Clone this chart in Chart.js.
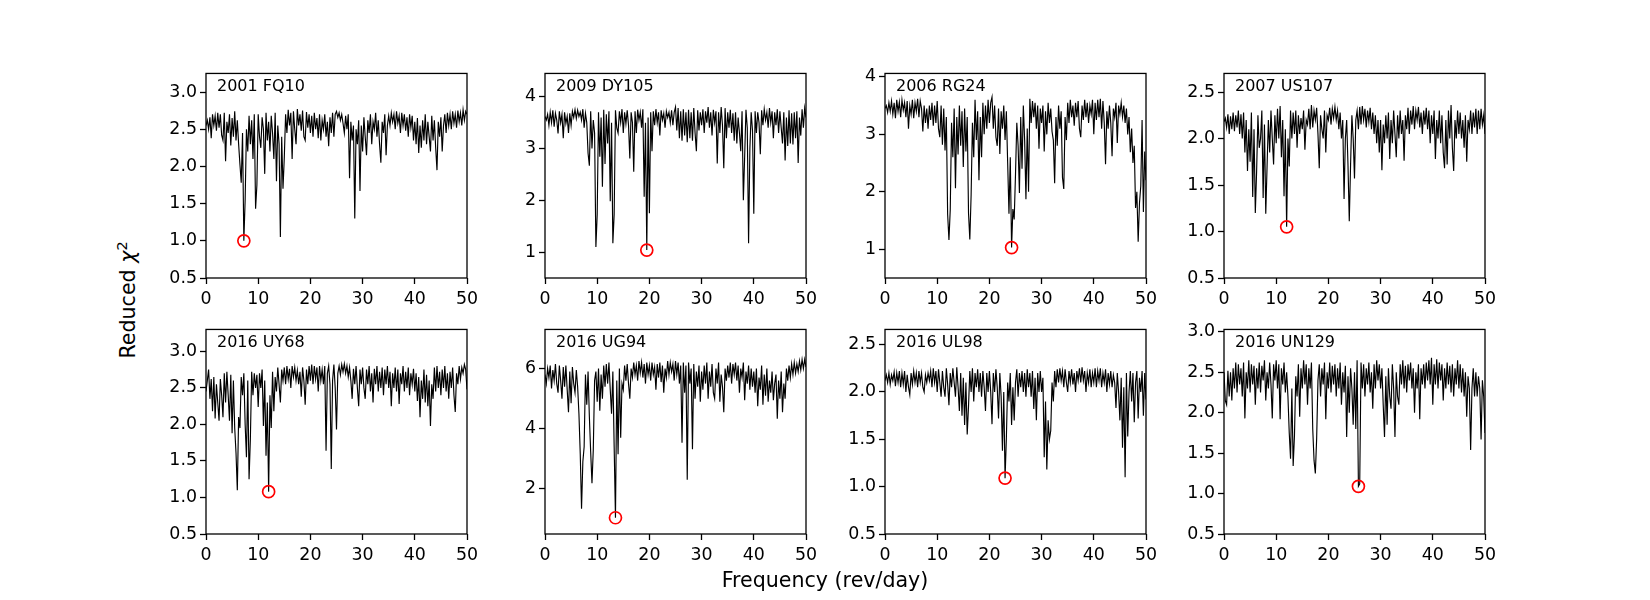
<!DOCTYPE html>
<html>
<head>
<meta charset="utf-8">
<script src="https://cdn.jsdelivr.net/npm/chart.js@4/dist/chart.umd.min.js"></script>
<style>
  body { margin: 0; background: #fff; width: 1650px; height: 600px; position: relative; overflow: hidden;
         font-family: "DejaVu Sans", sans-serif; color: #000; }
  canvas { position: absolute; }
  .name { position: absolute; font-size: 16px; line-height: 1; white-space: nowrap; }
  .axlabel { position: absolute; font-size: 20.6px; line-height: 1; white-space: nowrap; }
</style>
</head>
<body>
<script>
// frequency grid step (rev/day), grid runs 0..50
const freqStep = 0.25;

const objectNames = ['2001 FQ10', '2009 DY105', '2006 RG24', '2007 US107',
                     '2016 UY68', '2016 UG94', '2016 UL98', '2016 UN129'];

// reduced chi^2, one value every 0.25 rev/day
const chiFQ10 = [
  2.55, 2.62, 2.5, 2.66, 2.38, 2.7, 2.55, 2.68, 2.48, 2.72, 2.52, 2.7, 2.42, 2.35, 2.72, 2.07, 2.6, 2.45, 2.7, 2.28,
  2.65, 2.4, 2.74, 2.35, 2.62, 2.3, 2.03, 1.78, 2.45, 1.0, 1.55, 2.5, 2.2, 2.68, 2.3, 2.62, 2.1, 2.7, 1.43, 1.75,
  2.7, 2.4, 2.25, 2.66, 2.5, 1.9, 2.72, 2.35, 2.6, 2.2, 2.68, 2.45, 2.1, 2.72, 1.8, 2.55, 2.3, 1.05, 2.4, 1.7,
  2.12, 2.7, 2.45, 2.76, 2.55, 2.72, 2.1, 2.74, 2.5, 2.3, 2.77, 2.55, 2.7, 2.48, 2.75, 2.4, 2.35, 2.73, 2.52, 2.7,
  2.45, 2.68, 2.4, 2.72, 2.5, 2.65, 2.38, 2.7, 2.35, 2.62, 2.5, 2.7, 2.4, 2.6, 2.27, 2.66, 2.45, 2.72, 2.4, 2.7,
  2.74, 2.66, 2.72, 2.62, 2.7, 2.58, 2.45, 2.68, 2.5, 2.7, 1.84, 2.6, 2.35, 2.55, 1.3, 2.5, 2.3, 2.62, 1.67, 2.55,
  2.2, 2.66, 2.4, 2.15, 2.62, 2.45, 2.7, 2.3, 2.6, 2.5, 2.72, 2.4, 2.62, 2.3, 2.05, 2.6, 2.45, 2.7, 2.15, 2.55,
  2.68, 2.55, 2.72, 2.6, 2.7, 2.5, 2.74, 2.58, 2.68, 2.45, 2.72, 2.55, 2.7, 2.48, 2.66, 2.4, 2.7, 2.52, 2.68, 2.35,
  2.6, 2.3, 2.65, 2.18, 2.55, 2.25, 2.62, 2.35, 2.7, 2.3, 2.6, 2.4, 2.2, 2.68, 2.35, 2.62, 2.25, 1.95, 2.6, 2.4,
  2.66, 2.2, 2.55, 2.7, 2.45, 2.72, 2.55, 2.7, 2.5, 2.74, 2.58, 2.7, 2.52, 2.75, 2.6, 2.72, 2.55, 2.76, 2.62, 2.74, 2.7
];
const chiDY105 = [
  3.62, 3.55, 3.66, 3.45, 3.7, 3.5, 3.74, 3.42, 3.68, 3.55, 3.29, 3.72, 3.5, 3.66, 3.2, 3.7, 3.48, 3.62, 3.3, 3.68,
  3.45, 3.72, 3.6, 3.75, 3.58, 3.74, 3.62, 3.7, 3.55, 3.76, 3.4, 3.68, 3.5, 2.91, 2.67, 3.72, 3.0, 3.55, 3.3, 1.1,
  1.73, 3.7, 2.84, 3.6, 2.26, 3.75, 2.7, 3.66, 3.1, 3.72, 1.98, 3.5, 1.17, 1.73, 3.74, 3.4, 3.3, 3.72, 3.5, 3.76,
  3.3, 3.7, 3.48, 3.74, 3.45, 2.81, 3.7, 3.5, 2.55, 3.72, 3.3, 3.75, 3.55, 3.7, 3.4, 3.76, 2.07, 3.5, 1.04, 3.6,
  1.75, 3.7, 2.95, 3.72, 3.45, 3.76, 3.5, 3.7, 3.25, 3.74, 3.55, 3.68, 3.4, 3.72, 3.6, 3.7, 3.5, 3.74, 3.45, 3.7,
  3.8, 3.35, 3.78, 3.2, 3.72, 3.15, 3.76, 3.25, 3.7, 3.12, 3.75, 3.2, 3.7, 3.15, 3.78, 3.3, 2.95, 3.74, 3.35, 3.7,
  3.45, 3.76, 3.3, 3.72, 3.5, 3.8, 3.4, 3.7, 3.25, 3.75, 3.5, 3.72, 2.71, 3.7, 3.3, 3.8, 3.45, 2.62, 3.78, 3.2,
  3.7, 3.4, 3.75, 3.3, 3.68, 3.15, 3.7, 3.1, 3.6, 3.3, 2.95, 3.72, 2.0, 2.85, 3.75, 3.4, 1.17, 3.0, 3.7, 3.35,
  1.74, 3.72, 3.3, 3.7, 3.5, 2.89, 3.74, 3.45, 3.76, 3.55, 3.7, 3.4, 3.78, 3.5, 3.72, 3.2, 3.7, 3.45, 3.76, 3.3,
  3.72, 3.4, 3.1, 3.7, 2.77, 3.6, 3.05, 3.74, 3.1, 3.68, 3.08, 3.7, 3.2, 3.72, 2.72, 3.6, 3.25, 3.76, 3.4, 3.78, 3.6
];
const chiRG24 = [
  3.45, 3.5, 3.38, 3.55, 3.4, 3.58, 3.35, 3.55, 3.28, 3.6, 3.4, 3.56, 3.3, 3.6, 3.42, 3.55, 3.3, 3.58, 3.1, 3.5,
  3.35, 3.6, 3.28, 3.55, 3.4, 3.62, 3.3, 3.58, 3.45, 3.05, 3.5, 3.2, 3.45, 3.1, 3.5, 3.25, 3.55, 3.15, 3.5, 3.2,
  3.58, 3.1, 2.95, 3.5, 2.82, 3.45, 2.72, 3.3, 1.61, 1.16, 1.69, 3.2, 2.6, 3.45, 2.06, 3.3, 2.65, 3.5, 2.8, 3.4,
  2.43, 3.45, 2.7, 3.3, 1.63, 1.17, 1.95, 3.2, 2.6, 3.6, 2.9, 3.4, 2.2, 3.3, 2.6, 3.55, 3.0, 3.5, 3.1, 3.6,
  3.2, 3.55, 3.65, 3.1, 3.5, 2.95, 2.8, 3.45, 2.66, 3.4, 3.1, 3.5, 2.9, 3.4, 2.5, 1.62, 2.6, 1.03, 1.7, 1.52,
  2.3, 3.2, 2.8, 1.98, 3.3, 2.4, 3.5, 2.9, 1.87, 3.1, 2.0, 3.62, 3.2, 3.58, 3.3, 3.55, 3.1, 3.5, 2.75, 3.45,
  3.2, 3.5, 2.7, 3.4, 3.0, 3.55, 3.2, 3.45, 3.05, 2.9, 2.15, 3.3, 2.8, 3.5, 3.1, 3.4, 2.25, 2.05, 3.3, 2.9,
  3.55, 3.2, 3.6, 3.3, 3.5, 3.15, 3.55, 3.3, 3.58, 3.1, 2.95, 3.5, 3.25, 3.6, 3.3, 3.55, 3.2, 3.5, 3.35, 3.6,
  3.0, 3.55, 3.25, 3.6, 3.3, 3.62, 3.1, 3.58, 3.2, 2.48, 3.4, 3.1, 3.5, 3.2, 2.62, 3.45, 3.3, 3.55, 2.85, 3.5,
  3.35, 3.55, 3.3, 3.5, 3.2, 3.45, 3.0, 3.3, 2.69, 3.1, 2.5, 2.8, 1.72, 2.0, 1.13, 1.8, 2.1, 3.25, 1.65, 2.7, 2.2
];
const chiUS107 = [
  2.18, 2.22, 2.12, 2.26, 2.05, 2.24, 2.1, 2.28, 2.08, 2.25, 2.12, 2.3, 2.05, 2.26, 2.0, 2.28, 1.85, 2.2, 1.65, 2.1,
  1.75, 2.28, 1.37, 2.1, 1.2, 1.65, 2.25, 1.9, 2.0, 2.3, 1.36, 2.15, 1.19, 1.7, 2.2, 1.85, 2.3, 2.0, 1.72, 2.25,
  1.95, 2.32, 2.0, 2.35, 1.8, 2.2, 1.38, 2.1, 1.05, 2.0, 1.7, 2.3, 2.0, 2.28, 2.05, 2.3, 1.9, 2.25, 2.05, 2.22,
  2.1, 2.3, 1.88, 2.2, 2.15, 2.32, 2.1, 2.36, 2.12, 2.3, 2.2, 2.33, 2.05, 1.68, 2.25, 2.1, 2.0, 2.3, 1.85, 2.25,
  2.2, 2.33, 2.15, 2.32, 2.22, 2.34, 2.2, 2.3, 2.1, 2.28, 2.0, 2.2, 1.35, 2.0, 2.2, 1.72, 1.11, 1.72, 2.25, 2.0,
  1.57, 2.2, 2.3, 2.1, 2.34, 2.15, 2.35, 2.2, 2.32, 2.12, 2.3, 2.18, 2.33, 2.1, 2.28, 2.05, 2.25, 1.95, 2.2, 1.85,
  2.2, 1.66, 2.15, 1.95, 2.25, 2.0, 2.28, 1.78, 2.2, 1.95, 2.3, 2.05, 1.8, 2.25, 2.0, 2.3, 2.05, 2.2, 1.76, 2.25,
  2.1, 2.33, 2.05, 2.3, 2.15, 2.35, 2.1, 2.3, 2.2, 2.34, 2.12, 2.28, 2.05, 2.3, 2.15, 2.33, 2.1, 2.3, 1.95, 2.25,
  2.05, 2.3, 1.78, 2.2, 2.0, 2.3, 1.95, 2.25, 1.85, 1.68, 2.2, 1.72, 2.3, 2.0, 2.36, 1.9, 1.65, 2.2, 2.0, 2.3,
  2.05, 2.28, 2.0, 2.2, 1.9, 2.25, 1.75, 2.2, 2.1, 2.3, 2.05, 2.28, 2.12, 2.32, 2.05, 2.3, 2.1, 2.32, 2.15, 2.25, 2.05
];
const chiUY68 = [
  2.45, 2.6, 2.75, 2.35, 2.62, 2.18, 2.65, 2.08, 2.55, 2.3, 2.05, 2.62, 2.4, 2.1, 2.7, 2.3, 2.72, 2.4, 2.05, 2.68,
  1.88, 2.6, 1.95, 1.61, 1.1, 2.1, 1.95, 2.65, 2.4, 2.7, 2.0, 1.55, 2.6, 1.25, 1.8, 2.72, 2.4, 2.7, 2.5, 2.68,
  2.24, 2.7, 2.5, 2.75, 1.98, 2.6, 1.57, 2.3, 1.08, 2.4, 1.95, 2.72, 2.18, 2.65, 2.45, 2.78, 2.55, 2.3, 2.75, 2.6,
  2.78, 2.55, 2.8, 2.62, 2.76, 2.5, 2.8, 2.65, 2.78, 2.6, 2.74, 2.55, 2.72, 2.38, 2.78, 2.6, 2.27, 2.75, 2.55, 2.8,
  2.6, 2.82, 2.55, 2.8, 2.62, 2.78, 2.45, 2.8, 2.6, 2.75, 2.55, 2.8, 1.64, 2.7, 2.8, 2.55, 1.39, 2.6, 2.82, 2.5,
  1.93, 2.7, 2.8, 2.68, 2.82, 2.72, 2.83, 2.7, 2.8, 2.65, 2.78, 2.6, 2.35, 2.76, 2.55, 2.8, 2.5, 2.25, 2.75, 2.55,
  2.78, 2.5, 2.35, 2.75, 2.55, 2.8, 2.45, 2.7, 2.3, 2.76, 2.55, 2.8, 2.45, 2.72, 2.5, 2.78, 2.4, 2.75, 2.55, 2.8,
  2.5, 2.72, 2.25, 2.7, 2.5, 2.78, 2.45, 2.75, 2.28, 2.7, 2.55, 2.8, 2.45, 2.72, 2.5, 2.78, 2.4, 2.7, 2.55, 2.76,
  2.45, 2.7, 2.32, 2.65, 2.1, 2.6, 2.35, 2.75, 2.3, 2.68, 2.25, 2.6, 1.98, 2.55, 2.35, 2.78, 2.45, 2.8, 2.5, 2.72,
  2.4, 2.75, 2.5, 2.8, 2.45, 2.7, 2.35, 2.72, 2.5, 2.78, 2.4, 2.17, 2.7, 2.55, 2.8, 2.62, 2.78, 2.7, 2.82, 2.75, 2.48
];
const chiUG94 = [
  5.8, 5.5, 6.0, 5.7, 6.1, 5.34, 5.95, 5.6, 6.15, 5.5, 5.2, 6.1, 5.6, 5.0, 6.05, 5.4, 6.1, 5.3, 4.55, 5.9,
  4.85, 6.05, 5.5, 5.2, 5.95, 5.4, 4.5, 3.18, 1.34, 2.9, 3.4, 5.8, 4.8, 5.9, 4.4, 3.23, 2.19, 3.3, 5.6, 5.9,
  4.9, 6.0, 4.6, 5.8, 5.0, 6.1, 5.4, 6.15, 5.5, 6.2, 5.3, 4.5, 5.9, 3.4, 1.04, 5.6, 3.15, 6.0, 3.7, 5.5,
  5.3, 6.1, 5.6, 6.15, 5.5, 5.0, 6.0, 5.7, 6.2, 5.8, 6.1, 5.6, 6.25, 5.85, 6.2, 5.7, 6.15, 5.5, 6.2, 5.8,
  6.1, 5.6, 6.2, 5.8, 6.05, 5.3, 6.15, 5.7, 6.2, 5.55, 6.1, 5.2, 6.0, 5.7, 6.25, 5.8, 6.2, 5.9, 6.15, 5.6,
  6.25, 5.8, 6.2, 5.5, 6.1, 3.53, 6.2, 5.2, 6.1, 2.3, 6.2, 5.5, 6.0, 3.32, 6.15, 5.0, 5.9, 5.4, 6.1, 4.9,
  5.9, 5.3, 6.1, 5.5, 6.2, 5.0, 5.9, 5.4, 6.15, 5.2, 5.0, 6.0, 5.5, 6.2, 4.9, 5.8, 5.4, 4.55, 6.0, 5.6,
  6.1, 5.7, 6.2, 5.5, 6.15, 5.8, 6.2, 5.6, 6.1, 5.2, 6.0, 5.7, 6.2, 4.95, 5.9, 5.5, 6.1, 5.3, 6.0, 5.4,
  5.9, 5.2, 6.0, 4.75, 5.7, 5.3, 6.1, 4.8, 5.8, 5.1, 6.0, 4.9, 5.6, 5.2, 5.9, 4.95, 5.5, 5.8, 4.33, 5.6,
  5.0, 5.9, 4.55, 5.5, 5.0, 6.0, 5.6, 6.1, 5.7, 6.15, 5.8, 6.2, 5.85, 6.15, 5.9, 6.25, 5.95, 6.3, 6.0, 6.3, 6.05
];
const chiUL98 = [
  2.12, 2.18, 2.1, 2.2, 2.08, 2.18, 2.12, 2.21, 2.06, 2.2, 2.1, 2.22, 2.05, 2.2, 2.08, 2.22, 2.0, 2.18, 2.05, 1.97,
  2.2, 2.08, 2.22, 2.1, 2.2, 2.05, 2.22, 2.1, 2.2, 2.05, 2.0, 2.18, 2.1, 2.2, 2.12, 2.22, 2.05, 2.25, 2.1, 2.22,
  2.0, 2.24, 2.1, 1.95, 2.22, 2.05, 1.95, 2.25, 2.08, 1.86, 2.2, 2.05, 2.25, 2.1, 1.95, 2.26, 2.05, 1.8, 2.2, 1.75,
  2.15, 1.65, 2.1, 1.55, 1.85, 2.22, 2.0, 2.25, 1.9, 2.2, 2.05, 2.24, 2.0, 2.2, 1.95, 2.22, 2.05, 1.8, 2.2, 2.0,
  2.22, 2.0, 1.66, 2.2, 2.0, 2.24, 2.05, 1.72, 2.2, 1.95, 1.38, 2.0, 1.09, 1.51, 2.1, 1.9, 2.2, 1.65, 2.05, 1.7,
  2.1, 2.24, 1.95, 2.2, 2.05, 2.22, 2.0, 2.2, 1.95, 2.24, 2.05, 2.2, 1.95, 2.22, 1.82, 2.15, 1.7, 2.2, 2.0, 2.22,
  2.0, 2.15, 1.31, 1.9, 1.18, 1.7, 1.5, 1.59, 2.1, 1.9, 2.22, 2.05, 2.24, 2.1, 2.25, 2.12, 2.22, 2.05, 2.24, 2.1,
  2.0, 2.22, 2.1, 2.24, 2.08, 2.2, 2.0, 2.22, 2.12, 2.25, 2.1, 2.26, 2.12, 2.22, 2.0, 2.2, 2.1, 2.24, 2.05, 2.2,
  2.1, 2.25, 2.05, 2.22, 2.12, 2.25, 2.05, 2.2, 2.1, 2.24, 2.0, 2.2, 2.08, 2.22, 2.05, 2.18, 2.1, 1.83, 2.2, 2.0,
  1.7, 2.15, 1.41, 2.05, 1.1, 2.2, 1.53, 2.0, 2.22, 1.9, 2.2, 1.68, 2.1, 2.22, 1.72, 2.15, 2.0, 2.22, 1.75, 2.2, 1.92
];
const chiUN129 = [
  2.5, 2.15, 2.1, 2.52, 2.2, 2.5, 2.15, 2.55, 2.3, 2.62, 2.25, 2.6, 2.35, 2.55, 2.2, 2.62, 1.93, 2.5, 2.3, 2.65,
  2.25, 2.6, 2.35, 2.58, 2.1, 2.55, 2.3, 2.62, 2.25, 2.58, 2.4, 2.65, 2.15, 2.5, 2.3, 2.62, 2.35, 1.93, 2.6, 2.4,
  2.65, 2.3, 2.6, 1.92, 2.55, 2.35, 2.62, 2.25, 2.5, 2.2, 1.75, 1.43, 2.3, 1.34, 1.72, 2.45, 2.2, 2.6, 1.95, 2.55,
  2.3, 2.65, 2.35, 2.6, 2.1, 2.55, 2.3, 2.62, 1.8, 1.41, 1.25, 1.68, 2.4, 2.6, 2.2, 2.55, 2.35, 2.62, 1.92, 2.5,
  2.3, 2.62, 2.25, 2.58, 2.35, 2.6, 2.2, 2.55, 2.3, 2.62, 2.1, 2.5, 2.25, 2.58, 1.7, 2.45, 2.0, 2.55, 2.3, 1.85,
  2.5, 1.8, 2.65, 1.09, 1.12, 2.62, 2.3, 2.6, 2.2, 2.55, 2.35, 2.62, 2.25, 2.5, 2.05, 2.6, 2.3, 2.65, 2.4, 2.6,
  2.3, 2.55, 2.1, 1.7, 2.45, 1.85, 2.55, 2.2, 2.05, 2.6, 2.3, 1.7, 2.5, 2.2, 2.1, 2.6, 2.35, 2.65, 2.3, 2.58,
  2.25, 2.6, 2.4, 2.62, 2.3, 2.55, 2.0, 2.5, 2.3, 2.6, 1.92, 2.55, 2.35, 2.6, 2.3, 2.62, 2.4, 2.65, 2.35, 2.68,
  2.1, 2.6, 2.35, 2.66, 2.3, 2.62, 2.4, 2.6, 2.15, 2.55, 2.3, 2.62, 2.35, 2.58, 2.25, 2.6, 2.2, 2.55, 2.35, 2.65,
  2.3, 2.6, 2.25, 2.55, 2.2, 2.5, 1.95, 2.45, 2.3, 1.54, 2.3, 2.55, 2.2, 2.5, 2.2, 2.45, 2.3, 1.67, 2.4, 2.2, 1.75
];

const allSeries = [chiFQ10, chiDY105, chiRG24, chiUS107, chiUY68, chiUG94, chiUL98, chiUN129];

// y axis limits and tick spacing per panel
const yMin  = [0.5, 0.5, 0.5, 0.5, 0.5, 0.5, 0.5, 0.5];
const yMax  = [3.25, 4.45, 4.06, 2.7, 3.3, 7.3, 2.66, 3.03];
const yStep = [0.5, 1, 1, 0.5, 0.5, 2, 0.5, 0.5];

// panel grid on the page
const colLeft = [206, 545, 885, 1224];
const rowTop = [72, 328];
const plotW = 261, plotH = 206;
const axisW = 60, axisH = 40, padTop = 12, padRight = 18;

const tickFont = { family: 'DejaVu Sans', size: 17.4 };

// box round each panel, like matplotlib spines
const framePlugin = {
    id: 'frame',
    afterDatasetsDraw(chart) {
        const { ctx, chartArea: a } = chart;
        ctx.save();
        ctx.strokeStyle = '#000';
        ctx.lineWidth = 1.3;
        ctx.strokeRect(a.left, a.top, a.right - a.left, a.bottom - a.top);
        ctx.restore();
    }
};

const body = document.body;

allSeries.forEach((series, i) => {
    const col = i % 4, row = Math.floor(i / 4);
    const canvas = document.createElement('canvas');
    canvas.width = axisW + plotW + padRight;
    canvas.height = padTop + plotH + axisH;
    canvas.style.left = (colLeft[col] - axisW) + 'px';
    canvas.style.top = (rowTop[row] - padTop) + 'px';
    body.appendChild(canvas);

    const points = series.map((v, k) => ({ x: k * freqStep, y: v }));
    // the best-fit frequency is the lowest chi^2 of the curve
    let best = 0;
    series.forEach((v, k) => { if (v < series[best]) best = k; });

    const decimals = yStep[i] < 1 ? 1 : 0;
    const gridOpts = {
        drawOnChartArea: false,
        drawTicks: true,
        tickLength: 6,
        tickWidth: 1.3,
        tickColor: '#000',
        color: '#000'
    };

    new Chart(canvas, {
        type: 'line',
        data: {
            datasets: [
                {
                    data: points,
                    borderColor: '#000',
                    borderWidth: 1.15,
                    pointRadius: 0,
                    tension: 0,
                    order: 2
                },
                {
                    type: 'scatter',
                    data: [points[best]],
                    borderColor: '#ff0000',
                    backgroundColor: 'rgba(0,0,0,0)',
                    borderWidth: 1.7,
                    pointRadius: 6,
                    pointStyle: 'circle',
                    order: 1
                }
            ]
        },
        options: {
            responsive: false,
            animation: false,
            events: [],
            layout: { padding: { top: padTop, right: padRight, left: 0, bottom: 0 } },
            scales: {
                x: {
                    type: 'linear',
                    min: 0,
                    max: 50,
                    afterFit: (s) => { s.height = axisH; },
                    ticks: { stepSize: 10, includeBounds: false, maxRotation: 0,
                             color: '#000', font: tickFont, padding: 5 },
                    grid: gridOpts,
                    border: { display: false }
                },
                y: {
                    min: yMin[i],
                    max: yMax[i],
                    afterFit: (s) => { s.width = axisW; },
                    ticks: { stepSize: yStep[i], includeBounds: false,
                             color: '#000', font: tickFont, padding: 3,
                             callback: (v) => v.toFixed(decimals) },
                    grid: gridOpts,
                    border: { display: false }
                }
            },
            plugins: {
                legend: { display: false },
                tooltip: { enabled: false }
            }
        },
        plugins: [framePlugin]
    });

    const label = document.createElement('div');
    label.className = 'name';
    label.textContent = objectNames[i];
    label.style.left = (colLeft[col] + 11) + 'px';
    label.style.top = (rowTop[row] + 5.5) + 'px';
    body.appendChild(label);
});

const xLabel = document.createElement('div');
xLabel.className = 'axlabel';
xLabel.textContent = 'Frequency (rev/day)';
xLabel.style.left = '825px';
xLabel.style.top = '570px';
xLabel.style.transform = 'translateX(-50%)';
body.appendChild(xLabel);

const yLabel = document.createElement('div');
yLabel.className = 'axlabel';
yLabel.innerHTML = 'Reduced <i>χ</i><sup style="font-size:0.7em;vertical-align:0.55em;line-height:0">2</sup>';
yLabel.style.left = '128px';
yLabel.style.top = '300px';
yLabel.style.transform = 'translate(-50%, -50%) rotate(-90deg)';
body.appendChild(yLabel);
</script>
</body>
</html>
